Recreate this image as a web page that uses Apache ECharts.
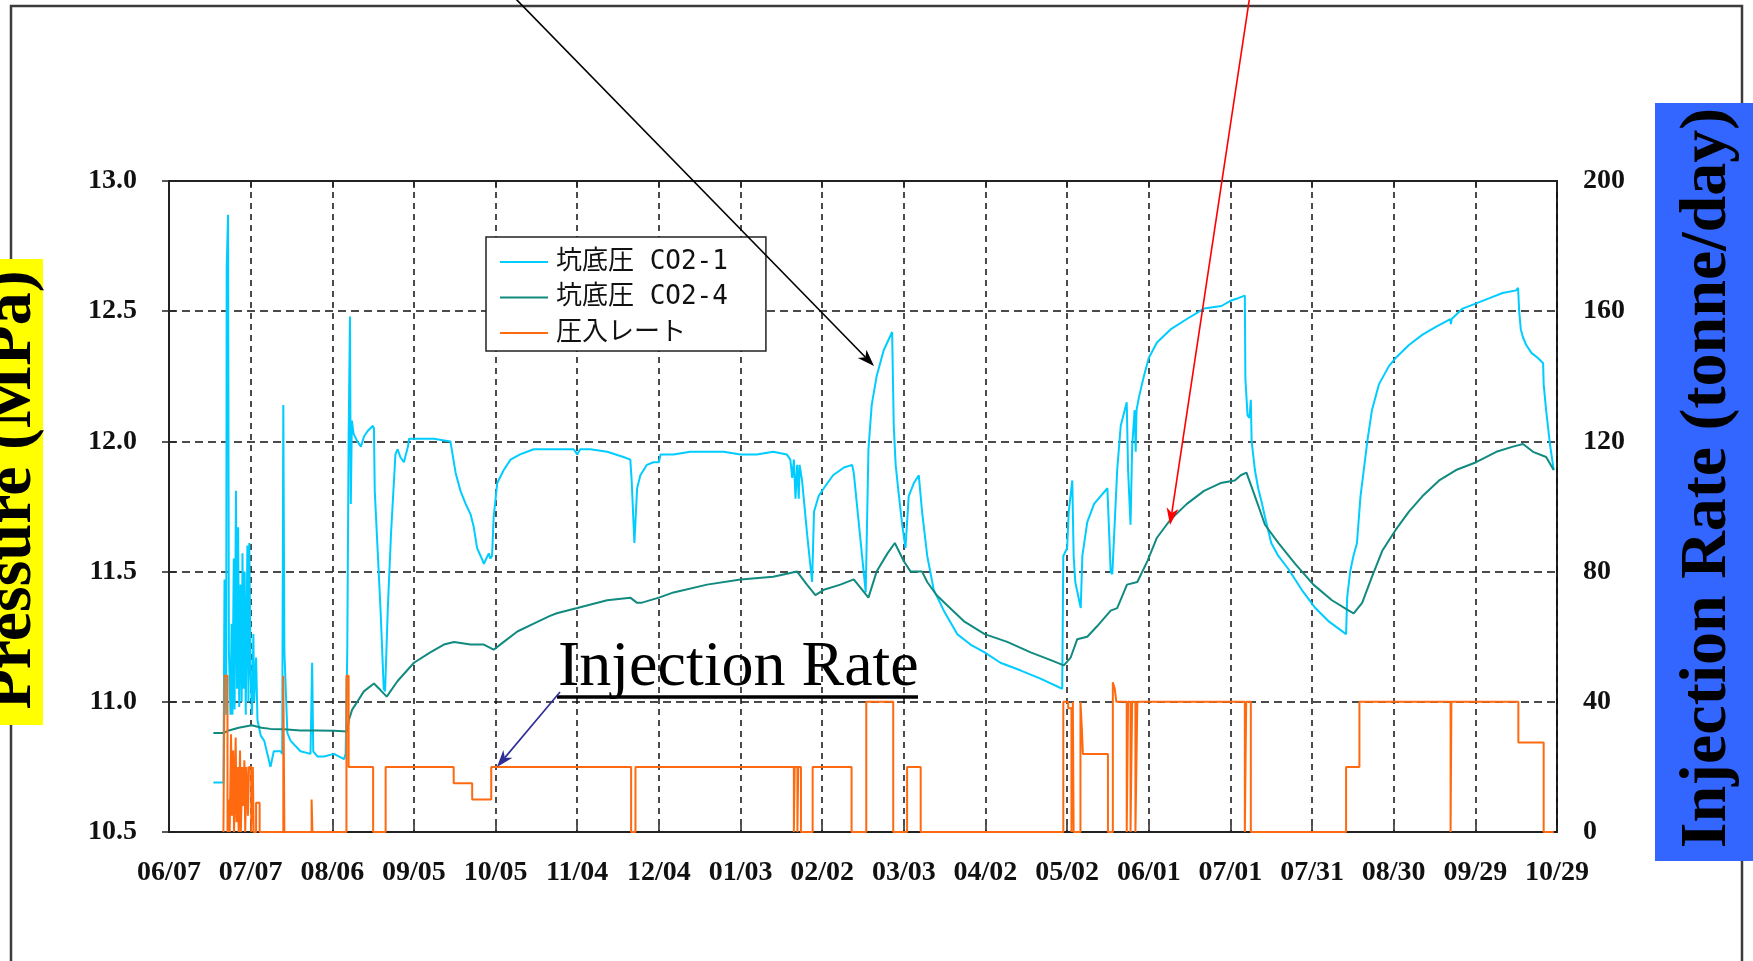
<!DOCTYPE html>
<html>
<head>
<meta charset="utf-8">
<title>坑底圧と圧入レート</title>
<script src="https://cdn.jsdelivr.net/npm/echarts/dist/echarts.min.js"></script>
<style>
  html, body { margin: 0; padding: 0; background: #ffffff; }
  #chart { width: 1753px; height: 961px; }
</style>
</head>
<body>
<div id="chart"></div>
<script>
// Date tick labels, one every 30 days starting 06/07 (x values are days since 06/07)
const xTickLabels = ['06/07', '07/07', '08/06', '09/05', '10/05', '11/04', '12/04', '01/03', '02/02',
  '03/03', '04/02', '05/02', '06/01', '07/01', '07/31', '08/30', '09/29', '10/29'];

const seriesNames = ['坑底圧 CO2-1', '坑底圧 CO2-4', '圧入レート'];

// Bottom-hole pressure, well CO2-1 [day, MPa]
const bhpCO2_1 = [
  [16.3, 10.69], [20.0, 10.69], [20.4, 11.47], [21.0, 10.95], [21.2, 12.67], [21.7, 12.87], [22.0, 11.2],
  [22.6, 10.95], [23.0, 11.3], [23.3, 10.95], [23.8, 11.55], [24.1, 10.97], [24.6, 11.81], [25.0, 11.05],
  [25.4, 11.67], [25.8, 10.98], [26.3, 11.45], [26.7, 11.0], [27.0, 11.57], [27.4, 11.05], [27.8, 11.5],
  [28.2, 10.95], [28.8, 11.6], [29.2, 11.0], [29.5, 11.61], [30.0, 11.1], [30.5, 10.95], [31.0, 11.26],
  [31.3, 11.0], [32.0, 11.17], [32.5, 10.93], [33.7, 10.87], [35.0, 10.85], [37.3, 10.75], [38.5, 10.81],
  [41.0, 10.81], [41.6, 10.80], [42.0, 12.14], [42.4, 11.19], [43.5, 10.88], [44.7, 10.85], [48.3, 10.81],
  [52.0, 10.80], [52.6, 11.15], [53.0, 10.81], [54.5, 10.79], [57.0, 10.79], [60.6, 10.80], [64.3, 10.78],
  [64.9, 10.80], [65.5, 11.19], [66.0, 12.01], [66.5, 12.48], [66.8, 11.76], [67.2, 12.08], [67.8, 12.03],
  [69.2, 12.0], [70.5, 11.98], [71.7, 12.02], [73.0, 12.04], [74.9, 12.06], [75.3, 12.05], [75.6, 11.81],
  [77.7, 11.36], [78.9, 11.05], [79.4, 11.04], [80.4, 11.36], [81.6, 11.65], [83.2, 11.95], [84.0, 11.97],
  [85.0, 11.94], [86.3, 11.92], [87.8, 11.98], [88.2, 12.01], [90.0, 12.01], [97.3, 12.01], [103.4, 12.0],
  [104.0, 12.0], [105.3, 11.88], [107.1, 11.81], [109.0, 11.76], [110.8, 11.72], [112.0, 11.67],
  [113.2, 11.59], [114.5, 11.56], [115.7, 11.53], [117.5, 11.57], [118.1, 11.55], [118.7, 11.56],
  [119.3, 11.71], [120.6, 11.84], [123.0, 11.89], [125.5, 11.93], [129.0, 11.95], [134.0, 11.97],
  [140.0, 11.97], [142.5, 11.97], [148.7, 11.97], [150.0, 11.95], [151.1, 11.97], [154.8, 11.97],
  [161.0, 11.96], [167.0, 11.94], [169.5, 11.93], [170.0, 11.85], [171.0, 11.61], [172.0, 11.82],
  [173.2, 11.87], [175.6, 11.91], [178.0, 11.92], [180.0, 11.92], [180.6, 11.95], [185.4, 11.95],
  [191.5, 11.96], [196.4, 11.96], [203.8, 11.96], [210.0, 11.95], [216.0, 11.95], [222.0, 11.96],
  [227.0, 11.95], [228.3, 11.93], [229.0, 11.86], [229.6, 11.93], [230.2, 11.78], [230.8, 11.91],
  [231.4, 11.78], [231.7, 11.91], [232.6, 11.85], [234.5, 11.64], [236.3, 11.46], [237.0, 11.73],
  [238.7, 11.79], [240.6, 11.82], [244.0, 11.87], [248.0, 11.90], [251.0, 11.91], [251.6, 11.88],
  [256.0, 11.42], [257.0, 11.97], [258.2, 12.14], [260.0, 12.25], [262.6, 12.35], [265.7, 12.42],
  [266.3, 12.06], [267.0, 11.91], [268.0, 11.81], [269.4, 11.68], [270.6, 11.59], [271.8, 11.79],
  [273.7, 11.84], [275.5, 11.87], [276.7, 11.73], [278.6, 11.56], [281.0, 11.43], [284.7, 11.35],
  [289.6, 11.26], [294.5, 11.22], [299.7, 11.19], [305.5, 11.15], [313.0, 11.12], [320.0, 11.09],
  [328.2, 11.05], [328.6, 11.56], [330.0, 11.59], [330.6, 11.73], [331.9, 11.85], [332.4, 11.56],
  [333.0, 11.46], [335.0, 11.36], [335.6, 11.56], [337.4, 11.69], [339.9, 11.76], [344.8, 11.82],
  [346.0, 11.50], [346.6, 11.49], [348.4, 11.89], [349.7, 12.06], [351.9, 12.15], [352.4, 11.89],
  [353.3, 11.68], [353.9, 11.98], [354.8, 12.12], [355.2, 11.96], [355.5, 12.12], [356.4, 12.17],
  [358.2, 12.25], [360.0, 12.32], [363.0, 12.38], [368.0, 12.43], [374.0, 12.47], [380.3, 12.51],
  [386.7, 12.52], [390.0, 12.54], [392.8, 12.55], [395.3, 12.56], [395.5, 12.24], [396.3, 12.10],
  [397.0, 12.09], [397.5, 12.16], [397.8, 12.0], [399.0, 11.89], [400.2, 11.82], [401.4, 11.77],
  [402.7, 11.71], [405.0, 11.61], [407.6, 11.56], [411.3, 11.51], [416.2, 11.43], [421.2, 11.36],
  [426.0, 11.31], [432.5, 11.26], [432.9, 11.40], [434.0, 11.50], [435.2, 11.56], [436.5, 11.61],
  [437.8, 11.79], [439.0, 11.89], [440.3, 12.0], [442.0, 12.12], [444.6, 12.22], [448.3, 12.29],
  [450.7, 12.32], [455.6, 12.37], [460.6, 12.41], [465.5, 12.44], [470.8, 12.47], [471.0, 12.45],
  [471.3, 12.47], [475.3, 12.51], [480.3, 12.53], [485.2, 12.55], [490.0, 12.57], [495.0, 12.58],
  [495.7, 12.59], [496.1, 12.50], [496.7, 12.43], [497.5, 12.40], [498.7, 12.37], [500.6, 12.34],
  [503.0, 12.32], [504.9, 12.30], [505.1, 12.22], [506.0, 12.12], [507.4, 11.99], [508.8, 11.89]
];

// Bottom-hole pressure, observation well CO2-4 [day, MPa]
const bhpCO2_4 = [
  [16.3, 10.88], [20.0, 10.88], [22.0, 10.89], [25.6, 10.90], [30.4, 10.91], [34.0, 10.90], [37.3, 10.896],
  [42.2, 10.895], [48.3, 10.89], [54.5, 10.89], [60.6, 10.889], [65.5, 10.886], [66.1, 10.93], [67.3, 10.97],
  [69.2, 11.0], [71.6, 11.04], [75.3, 11.07], [77.7, 11.045], [80.0, 11.02], [84.0, 11.08], [90.0, 11.15],
  [96.0, 11.19], [101.0, 11.22], [104.7, 11.23], [110.8, 11.22], [115.7, 11.22], [119.3, 11.20],
  [123.0, 11.23], [128.0, 11.27], [134.0, 11.30], [140.0, 11.33], [142.5, 11.34], [150.0, 11.36],
  [161.0, 11.39], [169.5, 11.40], [172.0, 11.38], [173.5, 11.38], [180.0, 11.40], [185.4, 11.42],
  [197.7, 11.45], [210.0, 11.47], [222.0, 11.48], [230.8, 11.50], [234.4, 11.45], [237.5, 11.41],
  [240.6, 11.43], [246.7, 11.45], [251.6, 11.47], [257.0, 11.40], [260.0, 11.50], [264.0, 11.57],
  [266.7, 11.61], [270.0, 11.54], [272.5, 11.50], [276.7, 11.50], [278.6, 11.46], [282.0, 11.41],
  [286.0, 11.37], [292.0, 11.31], [299.7, 11.26], [308.0, 11.23], [316.6, 11.19], [324.0, 11.16],
  [328.8, 11.14], [331.3, 11.17], [333.7, 11.24], [337.4, 11.25], [341.0, 11.29], [346.0, 11.35],
  [348.4, 11.36], [352.0, 11.45], [355.8, 11.46], [359.5, 11.54], [363.0, 11.63], [368.0, 11.70],
  [374.0, 11.76], [380.3, 11.81], [386.4, 11.84], [391.6, 11.85], [393.8, 11.87], [395.9, 11.88],
  [399.0, 11.79], [402.7, 11.68], [407.6, 11.61], [413.8, 11.53], [420.5, 11.45], [427.3, 11.39],
  [433.5, 11.35], [435.3, 11.34], [438.4, 11.38], [442.0, 11.48], [445.8, 11.58], [450.7, 11.66],
  [455.6, 11.73], [460.6, 11.79], [466.7, 11.85], [472.9, 11.89], [480.3, 11.92], [487.7, 11.96],
  [493.8, 11.98], [497.5, 11.99], [501.2, 11.96], [506.0, 11.94], [508.8, 11.89]
];

// Injection rate [day the level starts, tonne/day]
const injectionRate = [
  [20.0, 0], [20.4, 48], [21.5, 0], [22.0, 10], [22.3, 0], [22.8, 30], [23.1, 5], [23.6, 25], [23.9, 0],
  [24.5, 29], [24.8, 3], [25.3, 20], [25.6, 0], [26.1, 25], [26.4, 0], [26.9, 20], [27.2, 8], [27.7, 22],
  [28.0, 0], [28.5, 20], [29.0, 5], [29.4, 20], [30.2, 0], [30.8, 20], [31.1, 0], [32.0, 9], [33.3, 0],
  [42.0, 48], [42.4, 0], [52.4, 10], [52.7, 0], [65.2, 48], [66.0, 20], [75.0, 0], [79.6, 20], [104.6, 15],
  [111.4, 10], [118.4, 20], [169.8, 0], [171.4, 20], [229.6, 0], [229.9, 20], [230.9, 0], [231.2, 20],
  [232.2, 0], [236.5, 20], [250.8, 0], [256.2, 40], [266.1, 0], [271.2, 20], [276.2, 0], [328.6, 40],
  [330.4, 38], [331.6, 0], [332.1, 40], [332.4, 0], [334.9, 40], [335.4, 32], [335.8, 24], [345.0, 0],
  [346.8, 46], [347.5, 44], [348.1, 40], [351.9, 0], [352.4, 40], [353.3, 0], [353.9, 40], [355.1, 0],
  [355.8, 40], [395.3, 0], [395.8, 40], [397.5, 0], [432.5, 20], [437.4, 40], [470.9, 0], [471.2, 40],
  [495.8, 27.5], [505.1, 0], [508.8, 0]
];

const seriesColors = ['#00CCFF', '#118A80', '#FF6A10'];

const serifBold = { fontFamily: 'Liberation Serif', fontWeight: 'bold', fontSize: 28, color: '#111' };

// Straight annotation arrow: shaft plus a barbed, filled head at (x2, y2)
function arrow(x1, y1, x2, y2, color, lw, hl, hw) {
  const a = Math.atan2(y2 - y1, x2 - x1);
  const ux = Math.cos(a), uy = Math.sin(a);
  const nx = -uy, ny = ux;
  const bx = x2 - ux * hl, by = y2 - uy * hl;
  const kx = x2 - ux * hl * 0.72, ky = y2 - uy * hl * 0.72;
  return [
    { type: 'line', z: 100, shape: { x1: x1, y1: y1, x2: kx, y2: ky }, style: { stroke: color, lineWidth: lw } },
    { type: 'polygon', z: 100, shape: { points: [[x2, y2], [bx + nx * hw / 2, by + ny * hw / 2], [kx, ky], [bx - nx * hw / 2, by - ny * hw / 2]] },
      style: { fill: color } }
  ];
}

const chart = echarts.init(document.getElementById('chart'), null, { renderer: 'canvas' });

const xCommon = { type: 'value', min: 0, max: 510, interval: 30 };

chart.setOption({
  animation: false,
  backgroundColor: '#ffffff',
  grid: { left: 169, top: 181, right: 196, bottom: 129, show: true, borderColor: '#222', borderWidth: 2 },
  legend: {
    orient: 'vertical', left: 486, top: 237,
    padding: [12, 38, 5, 14],
    icon: 'rect', itemWidth: 48, itemHeight: 2, itemGap: 9.5,
    backgroundColor: '#ffffff', borderColor: '#222', borderWidth: 1.5, borderRadius: 0,
    selectedMode: false,
    data: seriesNames,
    textStyle: { fontFamily: "'DejaVu Sans Mono', 'Noto Sans CJK JP'", fontSize: 26, lineHeight: 26, color: '#111', padding: [0, 0, 0, 3] }
  },
  xAxis: [
    Object.assign({}, xCommon, {
      position: 'bottom',
      axisLine: { show: true, lineStyle: { color: '#222', width: 2 } },
      axisTick: { show: true, inside: true, length: 7, lineStyle: { color: '#222', width: 1.5 } },
      axisLabel: Object.assign({ margin: 27, showMinLabel: true, showMaxLabel: true,
        formatter: v => xTickLabels[Math.round(v / 30)] || '' }, serifBold),
      splitLine: { show: true, lineStyle: { color: '#111', width: 1.5, type: [6, 5] } }
    }),
    Object.assign({}, xCommon, {
      position: 'top',
      axisLine: { show: true, lineStyle: { color: '#222', width: 2 } },
      axisTick: { show: true, inside: true, length: 7, lineStyle: { color: '#222', width: 1.5 } },
      axisLabel: { show: false },
      splitLine: { show: false }
    })
  ],
  yAxis: [
    {
      type: 'value', min: 10.5, max: 13.0, interval: 0.5, position: 'left',
      axisLine: { show: true, lineStyle: { color: '#222', width: 2 } },
      axisTick: { show: true, inside: true, length: 7, lineStyle: { color: '#222', width: 1.5 } },
      axisLabel: Object.assign({ margin: 32, formatter: v => v.toFixed(1) }, serifBold),
      splitLine: { show: true, lineStyle: { color: '#111', width: 1.5, type: [8, 5] } }
    },
    {
      type: 'value', min: 0, max: 200, interval: 40, position: 'right',
      axisLine: { show: true, lineStyle: { color: '#222', width: 2 } },
      axisTick: { show: true, inside: true, length: 7, lineStyle: { color: '#222', width: 1.5 } },
      axisLabel: Object.assign({ margin: 26 }, serifBold),
      splitLine: { show: false }
    }
  ],
  series: [
    {
      name: seriesNames[0], type: 'line', xAxisIndex: 0, yAxisIndex: 0, data: bhpCO2_1,
      symbol: 'none', lineStyle: { color: seriesColors[0], width: 2 }, itemStyle: { color: seriesColors[0] }, z: 3
    },
    {
      name: seriesNames[1], type: 'line', xAxisIndex: 0, yAxisIndex: 0, data: bhpCO2_4,
      symbol: 'none', lineStyle: { color: seriesColors[1], width: 2 }, itemStyle: { color: seriesColors[1] }, z: 4
    },
    {
      name: seriesNames[2], type: 'line', xAxisIndex: 0, yAxisIndex: 1, data: injectionRate, step: 'end',
      symbol: 'none', lineStyle: { color: seriesColors[2], width: 2 }, itemStyle: { color: seriesColors[2] }, z: 5
    }
  ],
  graphic: [
    // outer slide frame
    { type: 'rect', z: -1, shape: { x: 11, y: 6, width: 1731, height: 1000 },
      style: { fill: 'none', stroke: '#3c3c3c', lineWidth: 2.5 } },
    // left axis title on a yellow band
    { type: 'rect', z: 50, shape: { x: 0, y: 259, width: 43, height: 466 }, style: { fill: '#FFFF00' } },
    { type: 'text', z: 51, x: 13, y: 490, rotation: Math.PI / 2,
      style: { text: 'Pressure (MPa)', font: 'bold 66px "Liberation Serif"', fill: '#000', textAlign: 'center', textVerticalAlign: 'middle' } },
    // right axis title on a blue band
    { type: 'rect', z: 50, shape: { x: 1655, y: 103, width: 98, height: 758 }, style: { fill: '#3366FF' } },
    { type: 'text', z: 51, x: 1708, y: 478, rotation: Math.PI / 2,
      style: { text: 'Injection Rate (tonne/day)', font: 'bold 66px "Liberation Serif"', fill: '#000', textAlign: 'center', textVerticalAlign: 'middle' } },
    // callout text for the rate curve
    { type: 'text', z: 100, x: 558, y: 668,
      style: { text: 'Injection Rate', font: '64px "Liberation Serif"', fill: '#000', textAlign: 'left', textVerticalAlign: 'middle' } },
    { type: 'line', z: 100, shape: { x1: 557, y1: 697, x2: 918, y2: 697 }, style: { stroke: '#000', lineWidth: 3.5 } }
  ]
    .concat(arrow(512, -5, 874, 366, '#000000', 1.6, 17, 12))
    .concat(arrow(1250, -5, 1170, 525, '#FF0000', 1.6, 17, 12))
    .concat(arrow(560, 692, 497, 767, '#2E2E96', 1.6, 17, 12))
});
</script>
</body>
</html>
